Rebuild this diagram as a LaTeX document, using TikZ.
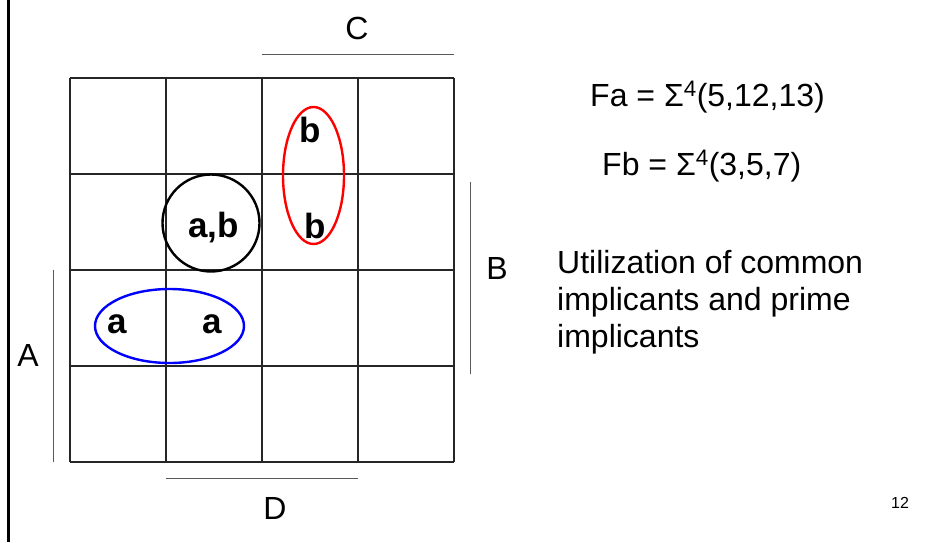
\documentclass[tikz,border=0pt]{standalone}
\usepackage{fontspec}
\setmainfont{Liberation Sans}
\usetikzlibrary{positioning, shapes.geometric}

\begin{document}
\begin{tikzpicture}[x=1pt, y=-1pt,
    varname/.style={font=\fontsize{32}{38}\selectfont, inner sep=0pt},
    varline/.style={draw=black!65, line width=1pt},
    cellval/.style={font=\fontsize{35}{40}\selectfont\bfseries, inner sep=0pt, anchor=base},
    loopring/.style={ellipse, line width=2.4pt, inner sep=0pt},
    note/.style={font=\fontsize{32}{37}\selectfont, inner sep=0pt, anchor=base west, align=left}
]
\useasboundingbox (0,0) rectangle (942,542);
\draw[line width=3pt] (8,0) -- (8,542);

% Karnaugh map grid
\foreach \i in {0,...,4} {
  \draw[line width=1.3pt, black!85] (70+96*\i,78) -- (70+96*\i,462);
  \draw[line width=1.3pt, black!85] (70,78+96*\i) -- (454,78+96*\i);
}

% variable bars
\coordinate (c1) at (262,54);  \coordinate (c2) at (454,54);
\coordinate (b1) at (470,182); \coordinate (b2) at (470,374);
\coordinate (a1) at (53,270);  \coordinate (a2) at (53,462);
\coordinate (d1) at (166,478); \coordinate (d2) at (358,478);
\draw[varline] (c1) -- (c2);
\draw[varline] (b1) -- (b2);
\draw[varline] (a1) -- (a2);
\draw[varline] (d1) -- (d2);
\node[varname] (varC) at (357,28) {C};
\node[varname] (varB) at (497,268) {B};
\node[varname] (varA) at (28,355) {A};
\node[varname] (varD) at (275,508) {D};

% groupings
\node[loopring, draw=black, minimum width=97pt, minimum height=97pt] (ringab) at (211,223) {};
\node[loopring, draw=red, minimum width=61pt, minimum height=137pt] (ringb) at (313.5,175.5) {};
\node[loopring, draw=blue, minimum width=149pt, minimum height=74pt] (ringa) at (169.5,326) {};

% cell entries
\node[cellval] (b13) at (310,142) {b};
\node[cellval] (b7) at (315,238) {b};
\node[cellval] (ab5) at (213.5,237) {a,b};
\node[cellval] (a12) at (117,333) {a};
\node[cellval] (a13) at (212,333) {a};

% functions and remark
\node[note] (fa) at (590,106) {Fa = Σ\textsuperscript{4}(5,12,13)};
\node[note] (fb) at (602,175) {Fb = Σ\textsuperscript{4}(3,5,7)};
\node[note] (remark) at (557,347) {Utilization of common\\implicants and prime\\implicants};
\node[font=\fontsize{16}{19}\selectfont, inner sep=0pt] (pagenum) at (900,503) {12};
\end{tikzpicture}
\end{document}
